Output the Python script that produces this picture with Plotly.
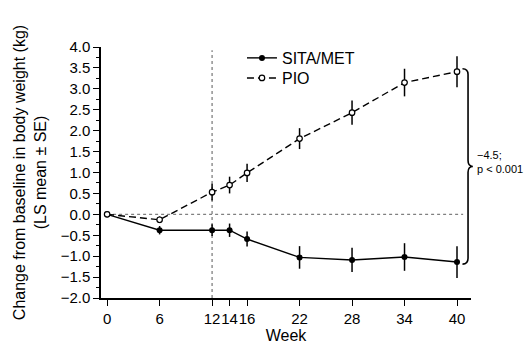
import plotly.graph_objects as go

weeks = [0, 6, 12, 14, 16, 22, 28, 34, 40]
sita_met = [0.0, -0.38, -0.38, -0.38, -0.59, -1.03, -1.09, -1.02, -1.14]
sita_met_se = [0.0, 0.10, 0.14, 0.16, 0.18, 0.27, 0.29, 0.33, 0.38]
pio = [0.0, -0.13, 0.53, 0.70, 0.99, 1.81, 2.43, 3.15, 3.41]
pio_se = [0.0, 0.08, 0.20, 0.20, 0.22, 0.25, 0.29, 0.33, 0.37]
x_ticks = [0, 6, 12, 14, 16, 22, 28, 34, 40]
y_ticks = [-2.0, -1.5, -1.0, -0.5, 0.0, 0.5, 1.0, 1.5, 2.0, 2.5, 3.0, 3.5, 4.0]
y_labels = [("\u2212%.1f" % abs(v)) if v < 0 else ("%.1f" % v) for v in y_ticks]
diff_text = "\u22124.5;<br>p < 0.001"

FONT = "Liberation Sans, Arial, sans-serif"

fig = go.Figure()
fig.add_trace(go.Scatter(
    x=weeks, y=sita_met, name="SITA/MET", mode="lines+markers", legend="legend",
    line=dict(color="black", width=1.4),
    marker=dict(symbol="circle", size=6, color="black"),
    error_y=dict(type="data", array=sita_met_se, color="black", thickness=1.5, width=0),
))
fig.add_trace(go.Scatter(
    x=weeks, y=pio, name="PIO", mode="lines+markers", legend="legend2",
    line=dict(color="black", width=1.4, dash="7px,4px"),
    marker=dict(symbol="circle", size=5.5, color="white", line=dict(color="black", width=1.2)),
    error_y=dict(type="data", array=pio_se, color="black", thickness=1.5, width=0),
))

# reference lines
fig.add_shape(type="line", xref="x", yref="y", x0=0, x1=40.7, y0=0, y1=0,
              line=dict(color="#808080", width=1.3, dash="3px,3px"), layer="below")
fig.add_shape(type="line", xref="x", yref="y", x0=12, x1=12, y0=-2, y1=3.92,
              line=dict(color="#808080", width=1.3, dash="3px,3px"), layer="below")

# brace between final values
top = pio[-1] + 0.07
bot = sita_met[-1] - 0.05
mid = (top + bot) / 2
r = 0.14
x0, x1, x2 = 0.977, 0.992, 1.005
path = (f"M {x0},{top} Q {x1},{top} {x1},{top - r} L {x1},{mid + r} "
        f"Q {x1},{mid} {x2},{mid} Q {x1},{mid} {x1},{mid - r} "
        f"L {x1},{bot + r} Q {x1},{bot} {x0},{bot}")
fig.add_shape(type="path", xref="paper", yref="y", path=path,
              line=dict(color="black", width=1.6))
fig.add_annotation(xref="paper", yref="y", x=1.012, y=mid, yshift=4,
                   text=diff_text, showarrow=False, xanchor="left", yanchor="middle",
                   align="left", font=dict(family=FONT, size=11, color="black"))

legend_common = dict(xanchor="left", yanchor="top", font=dict(family=FONT, size=16),
                     bgcolor="rgba(0,0,0,0)", itemwidth=30)
fig.update_layout(
    width=530, height=346,
    margin=dict(l=101, r=59, t=47, b=48),
    paper_bgcolor="white", plot_bgcolor="white",
    font=dict(family=FONT, size=15, color="black"),
    showlegend=True,
    legend=dict(x=0.381, y=1.024, **legend_common),
    legend2=dict(x=0.381, y=0.944, **legend_common),
    xaxis=dict(range=[-0.7, 41.6], tickvals=x_ticks, ticktext=[str(v) for v in x_ticks],
               tickangle=0, automargin=False,
               showline=True, linecolor="black", linewidth=1.5, ticks="outside",
               ticklen=6, tickwidth=1.3, tickcolor="black", showgrid=False, zeroline=False,
               title=dict(text="Week", font=dict(size=16), standoff=2),
               tickfont=dict(size=15)),
    yaxis=dict(range=[-2, 4], tickvals=y_ticks, ticktext=y_labels, automargin=False,
               showline=True, linecolor="black", linewidth=1.5, ticks="outside",
               ticklen=6, tickwidth=1.3, tickcolor="black", showgrid=False, zeroline=False,
               minor=dict(dtick=0.25, ticks="outside", ticklen=3, tickwidth=1.2,
                          tickcolor="black", showgrid=False),
               title=dict(text="Change from baseline in body weight (kg)<br>(LS mean \u00b1 SE)",
                          font=dict(size=16), standoff=10),
               tickfont=dict(size=15)),
)

fig.write_html("out.html", config={"displayModeBar": False},
               post_script="document.body.style.margin='0';")
